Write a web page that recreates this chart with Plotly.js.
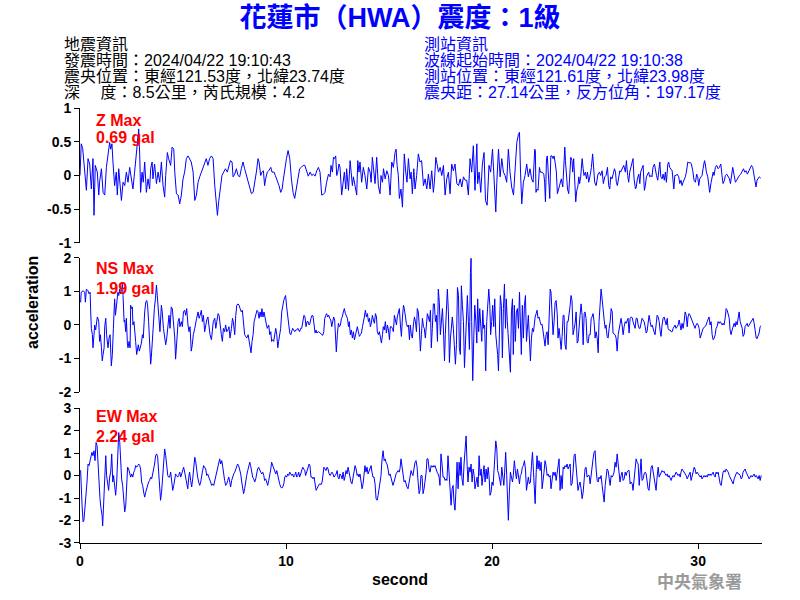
<!DOCTYPE html>
<html>
<head>
<meta charset="utf-8">
<script src="https://cdn.plot.ly/plotly-3.0.1.min.js"></script>
<style>html,body{margin:0;padding:0;background:#fff;}#chart{width:800px;height:600px;}</style>
</head>
<body>
<div id="chart"></div>
<script>
// ---- Data (seconds, gal) ----
const zTime = [0.00,0.03,0.06,0.13,0.23,0.31,0.39,0.47,0.55,0.63,0.68,0.74,0.84,0.91,0.95,1.04,1.12,1.20,1.28,1.36,1.44,1.49,1.55,1.60,1.68,1.76,1.81,1.88,1.96,2.01,2.09,2.17,2.25,2.33,2.41,2.46,2.57,2.65,2.73,2.85,2.90,2.94,3.01,3.07,3.14,3.22,3.30,3.38,3.43,3.50,3.54,3.62,3.71,3.79,3.87,3.95,4.03,4.11,4.16,4.24,4.30,4.40,4.47,4.55,4.60,4.68,4.76,4.84,4.92,5.00,5.08,5.16,5.24,5.32,5.40,5.49,5.57,5.65,5.73,5.81,5.89,5.97,6.05,6.13,6.21,6.29,6.38,6.46,6.54,6.62,6.67,6.73,6.83,6.89,6.97,7.06,7.15,7.22,7.30,7.38,7.43,7.51,7.59,7.67,7.75,7.83,7.91,7.99,8.07,8.16,8.24,8.32,8.40,8.48,8.56,8.64,8.69,8.77,8.83,8.90,8.96,9.01,9.09,9.16,9.26,9.32,9.42,9.48,9.58,9.66,9.74,9.81,9.85,9.94,10.02,10.10,10.18,10.26,10.34,10.42,10.50,10.58,10.66,10.74,10.83,10.91,10.99,
11.08,11.17,11.25,11.33,11.41,11.49,11.57,11.65,11.70,11.73,11.81,11.89,11.97,12.06,12.14,12.18,12.25,12.30,12.35,12.41,12.46,12.51,12.57,12.62,12.70,12.78,12.83,12.90,12.94,13.03,13.11,13.16,13.22,13.27,13.35,13.43,13.48,13.54,13.59,13.67,13.75,13.83,13.92,14.00,14.08,14.13,14.19,14.26,14.32,14.40,14.48,14.56,14.61,14.68,14.73,14.81,14.89,14.97,15.05,15.13,15.21,15.29,15.34,15.39,15.45,15.50,15.58,15.65,15.70,15.74,15.81,15.87,15.94,16.02,16.07,16.13,16.20,16.26,16.34,16.42,16.50,16.58,16.67,16.75,16.83,16.91,16.99,17.07,17.15,17.20,17.27,17.33,17.40,17.48,17.56,17.64,17.72,17.80,17.88,17.96,18.04,18.12,18.20,18.29,18.37,18.45,18.53,18.61,18.69,18.77,18.85,18.93,19.01,19.09,19.17,19.26,19.30,19.37,19.45,19.53,19.61,19.68,19.76,19.85,19.93,20.02,20.10,20.18,20.23,20.31,20.39,20.47,20.55,20.63,20.71,20.79,20.87,20.95,21.04,21.12,21.20,21.28,21.33,21.38,21.44,21.52,21.60,21.68,21.76,21.84,21.92,
21.99,22.04,22.07,22.10,22.13,22.18,22.23,22.26,22.30,22.34,22.43,22.51,22.55,22.59,22.64,22.68,22.75,22.80,22.85,22.91,22.96,23.01,23.07,23.12,23.17,23.23,23.32,23.36,23.43,23.48,23.53,23.56,23.61,23.66,23.72,23.77,23.82,23.88,23.91,23.96,24.01,24.06,24.11,24.16,24.21,24.25,24.30,24.37,24.42,24.46,24.53,24.58,24.63,24.69,24.77,24.82,24.88,24.93,24.98,25.05,25.10,25.14,25.21,25.27,25.34,25.40,25.47,25.53,25.60,25.66,25.71,25.76,25.82,25.87,25.94,25.99,26.03,26.08,26.15,26.20,26.24,26.31,26.39,26.47,26.52,26.58,26.63,26.68,26.75,26.79,26.84,26.89,26.96,27.00,27.05,27.12,27.17,27.21,27.28,27.33,27.39,27.44,27.49,27.55,27.60,27.65,27.72,27.76,27.81,27.88,27.93,27.98,28.04,28.09,28.14,28.19,28.25,28.30,28.36,28.41,28.46,28.53,28.57,28.62,28.67,28.74,28.82,28.87,28.93,28.98,29.06,29.11,29.17,29.22,29.27,29.32,29.38,29.43,29.50,29.54,29.63,29.67,29.74,29.80,29.87,29.93,29.98,30.03,30.08,30.14,30.19,30.24,30.31,30.35,30.40,30.47,30.52,30.56,30.63,30.68,30.73,30.77,30.84,30.90,30.97,31.03,31.10,31.16,31.21,31.28,31.32,31.39,31.45,31.52,31.57,31.62,31.68,31.75,31.81,31.87,31.94,32.00,32.07,32.13,32.20,32.26,32.33,32.39,32.46,32.54,32.59,32.65,32.72,32.75,32.81,32.86,32.91,32.97,33.04];
const zAcc = [0.00,0.45,0.47,0.40,0.00,-0.22,0.25,0.17,-0.20,0.25,-0.59,0.15,0.05,-0.29,-0.10,0.10,-0.25,-0.29,0.12,0.29,0.49,0.39,0.47,0.20,-0.15,0.05,-0.29,0.10,-0.20,-0.37,-0.10,-0.15,0.05,-0.10,0.12,0.02,-0.20,0.05,0.29,0.69,0.29,-0.25,0.05,-0.10,0.20,-0.25,-0.05,-0.20,0.10,0.20,-0.05,0.17,-0.12,0.05,-0.10,0.20,-0.15,-0.32,0.00,0.34,0.25,0.15,0.42,0.39,0.05,-0.27,-0.29,-0.42,-0.29,-0.05,0.05,0.25,0.29,0.25,0.20,0.05,-0.37,-0.29,-0.10,-0.02,0.05,0.12,0.17,0.25,0.15,0.25,0.29,0.25,-0.15,-0.44,-0.59,-0.39,-0.10,0.00,0.05,0.10,0.05,0.15,0.22,0.20,-0.02,0.02,0.10,0.00,-0.02,0.10,0.20,0.10,0.00,-0.10,-0.20,-0.27,-0.25,-0.12,0.05,0.25,0.20,0.00,0.05,0.07,-0.15,-0.05,0.05,0.07,0.12,0.05,0.05,0.00,-0.07,-0.15,-0.25,-0.20,-0.10,0.10,0.25,0.37,0.25,-0.05,-0.25,-0.34,-0.20,0.00,0.10,0.12,0.15,0.15,0.07,
-0.01,0.05,0.00,0.02,-0.01,0.07,0.12,0.05,-0.15,-0.29,-0.28,-0.25,-0.10,0.02,-0.02,0.15,0.05,0.27,0.25,0.29,0.00,0.05,0.17,0.12,-0.29,-0.10,0.05,-0.20,0.10,-0.22,0.22,0.05,-0.15,-0.02,-0.17,-0.29,0.22,0.05,0.20,-0.10,0.12,0.00,-0.20,0.12,0.05,-0.10,0.27,0.05,-0.12,0.27,-0.15,-0.27,0.00,-0.10,0.10,-0.05,0.07,0.00,-0.29,0.20,0.12,0.34,0.39,0.15,0.00,-0.34,-0.20,-0.47,-0.05,0.32,0.05,-0.10,0.25,-0.05,0.05,-0.27,0.10,-0.20,0.00,0.32,0.20,0.22,-0.15,-0.05,-0.20,0.02,-0.20,0.07,-0.25,-0.10,0.27,0.15,0.05,0.12,0.00,0.15,-0.29,-0.05,0.05,-0.27,0.17,0.07,0.17,-0.12,-0.15,-0.05,-0.17,-0.02,-0.07,-0.07,-0.29,0.25,0.05,0.44,-0.22,0.47,-0.12,0.05,-0.25,0.17,0.34,-0.37,-0.44,0.15,0.05,0.39,-0.07,-0.54,-0.10,0.39,-0.02,0.25,0.05,0.00,-0.10,0.39,0.05,-0.17,-0.29,0.15,0.49,0.61,0.64,0.05,-0.42,-0.10,0.00,0.17,-0.02,0.10,-0.05,
-0.10,0.12,0.39,0.37,-0.25,-0.20,-0.22,0.00,0.12,0.05,0.05,0.02,-0.10,-0.39,0.25,0.29,-0.02,-0.34,0.29,0.29,0.25,0.29,0.17,0.05,-0.27,-0.20,-0.12,-0.05,-0.17,0.12,0.42,0.22,-0.10,-0.20,-0.27,0.15,0.27,0.22,0.05,0.25,-0.10,-0.39,-0.22,-0.17,-0.02,-0.12,-0.02,0.25,0.10,0.00,0.05,-0.05,0.05,-0.10,0.02,0.12,0.32,0.10,-0.10,-0.15,0.00,0.02,0.05,0.00,0.07,-0.12,-0.02,0.00,0.12,-0.15,-0.20,-0.02,-0.05,0.00,0.10,0.05,-0.10,-0.15,0.02,0.07,0.05,0.10,0.15,0.05,0.22,0.00,-0.10,0.05,0.15,0.22,0.25,-0.05,-0.20,-0.17,-0.05,0.02,-0.12,0.05,0.12,0.15,-0.22,-0.15,-0.02,0.02,0.05,-0.02,0.00,-0.02,0.12,0.17,0.05,0.00,-0.07,0.07,0.20,-0.02,-0.05,0.02,-0.07,0.05,-0.10,0.17,0.20,0.12,0.10,0.07,-0.20,0.00,0.00,0.02,-0.02,-0.12,-0.07,-0.15,-0.10,-0.07,-0.02,0.05,0.20,0.19,0.19,0.17,0.07,-0.07,-0.10,0.02,-0.02,-0.15,-0.05,-0.02,0.00,0.10,0.22,0.17,0.05,-0.02,-0.15,-0.25,-0.10,-0.02,0.05,0.00,0.12,0.15,0.10,0.12,0.17,0.00,-0.12,-0.07,0.00,0.02,-0.02,-0.05,-0.12,-0.02,0.12,0.00,-0.10,-0.07,-0.02,0.00,0.02,0.07,0.10,0.05,0.07,0.02,0.07,0.12,0.15,0.12,0.00,-0.10,-0.17,-0.07,-0.05,-0.02,-0.04];

const nsTime = [0.00,0.03,0.06,0.15,0.23,0.26,0.31,0.39,0.44,0.49,0.52,0.55,0.60,0.63,0.68,0.71,0.76,0.81,0.84,0.87,0.91,0.95,0.99,1.04,1.08,1.12,1.17,1.20,1.25,1.29,1.36,1.41,1.46,1.52,1.57,1.62,1.65,1.68,1.72,1.76,1.81,1.84,1.88,1.93,1.97,2.01,2.06,2.09,2.14,2.17,2.22,2.25,2.30,2.33,2.38,2.43,2.46,2.49,2.54,2.57,2.62,2.65,2.70,2.75,2.78,2.83,2.88,2.93,2.98,3.03,3.07,3.14,3.19,3.24,3.28,3.33,3.38,3.43,3.46,3.51,3.56,3.61,3.66,3.71,3.75,3.79,3.83,3.88,3.95,3.99,4.05,4.11,4.16,4.21,4.27,4.32,4.37,4.43,4.48,4.53,4.60,4.64,4.69,4.76,4.81,4.85,4.92,4.97,5.02,5.08,5.13,5.18,5.24,5.29,5.34,5.40,5.45,5.50,5.57,5.62,5.66,5.73,5.78,5.83,5.89,5.94,5.99,6.05,6.10,6.15,6.21,6.26,6.31,6.38,6.42,6.47,6.54,6.59,6.64,6.70,6.75,6.80,6.86,6.91,6.96,7.02,7.07,7.12,7.18,7.23,7.28,7.35,7.40,7.44,7.51,7.56,7.61,7.67,7.72,7.77,7.83,7.88,7.93,7.99,8.04,8.09,8.16,8.20,8.25,8.30,8.35,8.40,8.45,8.50,8.54,8.59,8.64,8.69,8.74,8.79,8.83,8.88,8.93,9.00,9.05,9.09,9.16,9.21,9.26,9.30,9.35,9.40,9.45,9.50,9.55,9.60,9.64,9.69,9.74,9.79,9.84,9.89,9.94,9.98,10.03,10.08,10.13,10.18,10.23,10.28,10.32,10.37,10.42,10.47,10.52,10.57,10.62,10.66,10.71,10.76,10.83,10.87,10.92,10.97,11.02,
11.07,11.12,11.16,11.21,11.26,11.31,11.36,11.41,11.46,11.50,11.57,11.62,11.67,11.73,11.78,11.83,11.88,11.93,11.97,12.02,12.07,12.12,12.17,12.22,12.27,12.31,12.36,12.41,12.44,12.49,12.54,12.59,12.64,12.69,12.73,12.78,12.83,12.88,12.93,12.98,13.03,13.07,13.12,13.17,13.22,13.27,13.32,13.37,13.41,13.46,13.51,13.56,13.61,13.66,13.71,13.75,13.80,13.85,13.90,13.95,14.00,14.05,14.09,14.14,14.19,14.24,14.29,14.34,14.39,14.43,14.48,14.53,14.58,14.63,14.68,14.72,14.77,14.82,14.87,14.92,14.97,15.02,15.06,15.11,15.16,15.21,15.26,15.31,15.36,15.40,15.45,15.50,15.55,15.60,15.65,15.70,15.74,15.79,15.84,15.89,15.94,15.99,16.03,16.08,16.13,16.18,16.23,16.28,16.33,16.37,16.42,16.47,16.52,16.57,16.62,16.67,16.71,16.76,16.81,16.86,16.91,16.96,17.01,17.05,17.10,17.15,17.20,17.25,17.30,17.35,17.39,17.44,17.49,17.54,17.59,17.64,17.69,17.73,17.78,17.83,17.88,17.93,17.98,18.03,18.07,18.12,18.17,18.22,18.27,18.32,18.37,18.41,18.46,18.51,18.56,18.61,18.66,18.70,18.75,18.80,18.85,18.90,18.95,18.98,19.01,19.06,19.11,19.16,19.21,19.26,19.30,19.35,19.40,19.45,19.50,19.55,19.59,19.64,19.69,19.74,19.79,19.84,19.89,19.93,19.98,20.03,20.08,20.13,20.18,20.23,20.27,20.31,20.35,20.40,20.45,20.50,20.55,20.60,20.65,20.69,20.74,20.79,20.84,20.89,20.94,20.99,21.03,21.08,21.13,21.18,21.23,21.28,21.33,21.37,21.42,21.47,21.52,21.57,21.62,21.67,21.71,21.76,21.81,21.86,21.91,21.96,22.01,
22.04,22.09,22.14,22.18,22.23,22.28,22.33,22.38,22.43,22.48,22.52,22.57,22.62,22.67,22.72,22.77,22.82,22.86,22.91,22.96,23.01,23.06,23.11,23.16,23.20,23.25,23.30,23.35,23.40,23.45,23.49,23.54,23.59,23.64,23.69,23.74,23.79,23.83,23.88,23.93,23.98,24.03,24.08,24.13,24.17,24.22,24.27,24.32,24.37,24.42,24.47,24.51,24.56,24.61,24.66,24.71,24.76,24.81,24.85,24.90,24.95,25.00,25.05,25.10,25.15,25.19,25.24,25.29,25.34,25.39,25.44,25.49,25.53,25.58,25.63,25.68,25.73,25.78,25.83,25.87,25.92,25.97,26.02,26.07,26.12,26.17,26.21,26.26,26.31,26.36,26.41,26.46,26.51,26.55,26.60,26.65,26.70,26.75,26.80,26.84,26.89,26.94,26.99,27.04,27.09,27.14,27.18,27.23,27.28,27.33,27.38,27.43,27.48,27.52,27.57,27.62,27.67,27.72,27.77,27.82,27.86,27.91,27.96,28.01,28.06,28.11,28.16,28.20,28.25,28.30,28.35,28.40,28.45,28.50,28.54,28.59,28.64,28.69,28.74,28.79,28.83,28.88,28.93,28.98,29.03,29.08,29.13,29.17,29.22,29.27,29.32,29.37,29.42,29.47,29.51,29.56,29.61,29.66,29.71,29.76,29.81,29.85,29.90,29.95,30.00,30.05,30.10,30.15,30.19,30.24,30.29,30.34,30.39,30.44,30.49,30.53,30.58,30.63,30.68,30.73,30.78,30.83,30.87,30.92,30.97,31.02,31.07,31.12,31.17,31.21,31.26,31.31,31.36,31.41,31.46,31.51,31.55,31.60,31.65,31.70,31.75,31.80,31.84,31.89,31.94,31.99,32.04,32.09,32.14,32.18,32.23,32.28,32.33,32.38,32.43,32.48,32.52,32.57,32.62,32.67,32.72,32.77,32.82,32.86,32.91,32.96,33.01,33.06];
const nsAcc = [0.70,0.68,0.98,1.02,0.98,0.68,1.07,1.02,0.93,0.98,0.39,-0.10,-0.29,-0.68,-0.29,0.00,-0.15,0.20,0.24,0.20,0.10,-0.49,-0.29,-0.68,-1.07,-0.88,-0.68,-0.05,0.20,-0.29,-0.68,-0.39,-0.29,-1.22,-0.88,-0.10,0.68,0.78,0.29,0.49,0.78,0.98,0.88,1.07,0.93,1.07,1.22,0.88,0.10,0.15,-0.20,0.20,-0.54,-0.68,-0.49,-0.68,0.59,0.49,0.54,0.00,0.10,-0.29,-0.49,-0.88,-0.68,-0.59,-0.78,-0.68,-0.54,-0.29,-0.39,0.39,0.68,0.73,0.59,0.10,-0.59,-1.17,-0.98,-0.39,0.10,0.49,0.78,1.19,0.88,0.49,0.20,-0.20,0.59,0.39,-0.10,-0.49,-0.59,-0.39,0.00,0.29,-0.10,0.54,0.49,0.10,-0.39,-1.02,-0.39,0.10,0.20,-0.05,0.10,-0.05,0.39,0.44,0.29,0.49,0.00,-0.20,-0.05,-0.78,-0.59,-0.29,-0.10,0.10,0.20,0.39,0.20,0.29,0.44,0.10,0.29,-0.20,0.00,0.15,0.24,0.00,-0.29,-0.44,-0.20,0.10,0.20,-0.10,0.10,0.34,0.29,-0.05,-0.29,-0.49,-0.10,-0.20,0.00,-0.20,-0.15,-0.05,-0.39,-0.10,0.20,0.10,-0.29,0.29,0.59,0.63,0.59,0.49,0.39,0.44,0.10,-0.29,-0.34,-0.39,-0.29,-0.49,-0.59,-0.83,-0.49,-0.29,0.10,0.20,0.29,0.44,0.39,0.20,0.39,0.24,0.49,0.24,0.39,0.10,0.00,-0.10,0.00,-0.29,-0.20,-0.49,-0.44,-0.49,-0.20,-0.10,-0.29,-0.68,-0.49,-0.29,-0.10,0.39,0.59,0.73,0.83,0.88,0.54,0.29,0.00,-0.24,-0.29,-0.15,-0.10,-0.15,-0.20,-0.15,-0.15,-0.10,-0.15,-0.20,-0.10,-0.10,0.15,0.29,0.24,-0.05,0.10,
0.10,0.00,0.05,0.20,0.29,0.27,-0.10,-0.24,-0.15,-0.24,-0.20,-0.21,-0.24,-0.29,-0.31,-0.20,0.20,0.29,0.34,0.24,0.29,0.20,0.15,-0.05,0.10,0.24,0.15,-0.49,-0.80,-0.29,0.05,-0.05,0.00,0.20,0.24,0.39,0.49,0.34,0.29,0.20,-0.05,0.10,-0.29,-0.15,-0.39,-0.20,-0.44,-0.29,-0.10,-0.05,-0.20,-0.34,-0.29,-0.24,-0.05,0.15,0.24,0.44,0.24,0.34,0.10,0.20,-0.05,0.05,0.29,0.15,0.05,0.34,0.24,-0.20,-0.29,-0.20,-0.34,-0.54,-0.29,-0.05,-0.15,0.10,-0.24,0.00,-0.15,-0.44,-0.05,-0.05,-0.10,-0.20,0.29,0.15,0.00,0.24,0.34,0.49,0.00,-0.34,0.24,0.59,0.49,0.20,0.05,-0.05,0.00,-0.44,0.00,-0.29,-0.39,0.00,0.24,0.10,-0.20,0.49,0.39,-0.05,-0.78,-0.29,0.20,-0.05,-0.10,-0.39,0.00,0.34,0.24,0.10,0.44,-0.68,-0.10,0.63,0.63,0.10,0.29,-0.49,1.07,0.68,-0.29,0.29,0.49,-0.15,-1.07,-0.29,0.39,1.07,0.39,-1.12,-0.39,0.10,0.24,-0.10,-0.54,-1.17,-0.59,1.12,0.88,-0.68,-0.88,1.17,0.59,0.10,-1.27,-0.49,0.49,0.88,0.10,-0.73,1.56,1.99,0.10,-1.66,-0.39,0.59,0.10,-0.54,0.78,-0.20,0.49,0.10,-0.49,0.44,-0.10,0.00,-1.37,0.10,0.59,1.07,0.59,-0.29,0.10,0.59,-0.05,0.78,-0.29,-0.59,-0.88,-1.37,0.00,0.88,0.59,-0.98,0.49,1.22,-0.10,0.78,0.10,-0.39,-1.07,-1.41,0.39,0.78,-0.88,0.59,-0.49,0.39,0.49,-0.10,0.98,-0.10,-0.88,0.59,-0.39,0.59,0.88,-0.49,-0.10,0.29,-0.39,-1.07,-0.39,-0.10,-0.20,
0.00,0.24,0.34,0.44,0.20,0.24,0.10,0.00,0.02,-0.29,-0.39,-0.63,-0.29,-0.20,-0.59,0.24,1.07,0.98,0.39,-0.29,0.10,0.68,0.73,0.34,-0.39,-0.10,-0.39,-0.73,-0.34,0.29,0.29,-0.59,-0.73,0.10,0.10,0.29,0.59,0.88,0.73,-0.29,-0.10,0.05,0.39,-0.54,-0.49,-0.20,0.29,0.63,0.29,-0.59,0.34,0.39,0.20,-0.49,-0.54,-0.29,-0.29,0.20,0.24,0.34,0.10,-0.39,-0.20,-0.39,-0.83,0.10,0.68,1.07,0.78,0.29,0.15,-0.10,0.00,-0.34,-0.39,-0.10,0.10,0.49,0.39,-0.24,-0.27,-0.29,-0.39,-0.78,-0.29,-0.10,-0.05,0.20,0.00,-0.29,-0.05,0.10,0.05,0.15,0.20,-0.24,0.20,0.24,0.22,0.10,0.00,-0.10,0.20,0.20,0.00,-0.10,-0.10,0.05,0.20,0.15,0.10,-0.05,-0.24,-0.20,0.15,0.29,0.10,-0.05,0.00,-0.15,-0.20,-0.29,0.05,0.29,0.24,0.10,-0.20,-0.34,0.00,0.20,0.24,0.10,0.00,0.20,-0.10,-0.15,-0.15,-0.20,-0.20,-0.10,-0.05,0.00,-0.10,-0.05,0.00,0.15,-0.05,-0.15,0.05,-0.10,0.10,0.39,0.29,-0.05,0.24,0.34,0.29,0.20,0.15,0.00,-0.05,-0.10,0.00,0.05,0.00,-0.10,-0.39,-0.29,-0.15,-0.10,-0.08,-0.05,0.00,0.10,0.20,0.24,0.00,0.10,-0.29,-0.44,-0.39,-0.29,-0.10,-0.05,0.10,0.05,0.10,0.05,0.00,0.05,0.00,0.20,0.49,0.44,0.29,0.20,-0.15,-0.29,-0.15,-0.05,0.05,-0.05,0.10,0.00,0.24,0.39,0.10,-0.05,-0.10,-0.34,-0.29,-0.05,0.00,0.05,-0.05,0.00,0.05,0.10,0.15,0.20,0.05,-0.24,-0.39,-0.41,-0.34,-0.24,-0.05,-0.02];

const ewTime = [0.00,0.03,0.10,0.15,0.19,0.24,0.29,0.34,0.39,0.44,0.49,0.53,0.58,0.63,0.68,0.73,0.78,0.83,0.87,0.92,0.97,1.02,1.07,1.10,1.15,1.20,1.25,1.29,1.34,1.39,1.44,1.49,1.54,1.59,1.63,1.68,1.73,1.78,1.83,1.88,1.93,1.97,2.02,2.07,2.12,2.17,2.22,2.27,2.31,2.36,2.41,2.46,2.51,2.56,2.61,2.65,2.70,2.75,2.80,2.85,2.90,2.94,2.99,3.04,3.09,3.14,3.19,3.24,3.28,3.33,3.38,3.43,3.48,3.53,3.58,3.62,3.67,3.72,3.77,3.82,3.87,3.91,3.96,4.01,4.06,4.11,4.16,4.21,4.26,4.30,4.35,4.40,4.45,4.50,4.55,4.60,4.64,4.69,4.74,4.79,4.84,4.89,4.94,4.98,5.03,5.08,5.13,5.18,5.23,5.28,5.32,5.37,5.42,5.47,5.52,5.57,5.61,5.66,5.71,5.76,5.81,5.86,5.91,5.95,6.00,6.05,6.10,6.15,6.20,6.25,6.29,6.34,6.39,6.44,6.49,6.54,6.59,6.63,6.68,6.73,6.78,6.83,6.88,6.93,6.97,7.02,7.07,7.12,7.17,7.22,7.27,7.31,7.36,7.41,7.46,7.51,7.56,7.61,7.65,7.70,7.75,7.80,7.85,7.90,7.94,7.99,8.04,8.09,8.14,8.19,8.24,8.28,8.33,8.38,8.43,8.48,8.53,8.58,8.62,8.67,8.72,8.77,8.82,8.87,8.92,8.96,9.01,9.06,9.11,9.16,9.21,9.26,9.30,9.35,9.40,9.45,9.50,9.55,9.59,9.64,9.69,9.74,9.79,9.84,9.89,9.94,9.98,10.03,10.08,10.13,10.18,10.23,10.28,10.32,10.37,10.42,10.47,10.52,10.57,10.61,10.66,10.71,10.76,10.81,10.86,10.91,10.95,11.00,
11.02,11.07,11.12,11.16,11.21,11.26,11.31,11.36,11.41,11.46,11.50,11.55,11.60,11.65,11.70,11.75,11.80,11.84,11.89,11.94,11.99,12.04,12.09,12.14,12.18,12.23,12.28,12.33,12.38,12.43,12.48,12.52,12.57,12.62,12.67,12.72,12.77,12.82,12.86,12.91,12.96,13.01,13.06,13.11,13.15,13.20,13.25,13.30,13.35,13.40,13.45,13.49,13.54,13.59,13.64,13.69,13.74,13.79,13.83,13.88,13.93,13.98,14.03,14.08,14.13,14.17,14.22,14.27,14.32,14.37,14.42,14.47,14.51,14.56,14.61,14.66,14.71,14.76,14.81,14.85,14.90,14.95,15.00,15.05,15.10,15.15,15.19,15.24,15.29,15.34,15.39,15.44,15.49,15.53,15.58,15.63,15.68,15.73,15.78,15.82,15.87,15.92,15.97,16.02,16.07,16.12,16.16,16.21,16.26,16.31,16.36,16.41,16.46,16.50,16.55,16.60,16.65,16.70,16.75,16.80,16.84,16.89,16.94,16.99,17.04,17.09,17.14,17.18,17.23,17.28,17.33,17.38,17.43,17.47,17.52,17.57,17.62,17.67,17.72,17.77,17.81,17.86,17.91,17.96,18.01,18.06,18.11,18.15,18.20,18.25,18.30,18.35,18.40,18.45,18.49,18.54,18.59,18.64,18.69,18.74,18.79,18.83,18.88,18.93,18.98,19.03,19.08,19.13,19.17,19.22,19.27,19.32,19.37,19.42,19.47,19.51,19.56,19.61,19.66,19.71,19.76,19.81,19.85,19.90,19.95,20.00,20.05,20.10,20.14,20.18,20.23,20.27,20.32,20.37,20.42,20.47,20.52,20.57,20.61,20.66,20.71,20.76,20.79,20.84,20.89,20.94,20.99,21.03,21.08,21.13,21.18,21.23,21.28,21.33,21.37,21.42,21.47,21.52,21.57,21.62,21.67,21.71,21.76,21.81,21.86,21.91,21.96,22.01,
22.04,22.09,22.14,22.18,22.23,22.28,22.33,22.38,22.43,22.48,22.52,22.57,22.62,22.67,22.72,22.77,22.82,22.86,22.91,22.96,23.01,23.06,23.11,23.16,23.20,23.25,23.30,23.35,23.40,23.45,23.49,23.54,23.59,23.64,23.69,23.74,23.79,23.83,23.88,23.93,23.98,24.03,24.08,24.13,24.17,24.22,24.27,24.32,24.37,24.42,24.47,24.51,24.56,24.61,24.66,24.71,24.76,24.81,24.85,24.90,24.95,25.00,25.05,25.10,25.15,25.19,25.24,25.29,25.34,25.39,25.44,25.49,25.53,25.58,25.63,25.68,25.73,25.78,25.83,25.87,25.92,25.97,26.02,26.07,26.12,26.17,26.21,26.26,26.31,26.36,26.41,26.46,26.51,26.55,26.60,26.65,26.70,26.75,26.80,26.84,26.89,26.94,26.99,27.04,27.09,27.14,27.18,27.23,27.28,27.33,27.38,27.43,27.48,27.52,27.57,27.62,27.67,27.72,27.77,27.82,27.86,27.91,27.96,28.01,28.06,28.11,28.16,28.20,28.25,28.30,28.35,28.40,28.45,28.50,28.54,28.59,28.64,28.69,28.74,28.79,28.83,28.88,28.93,28.98,29.03,29.08,29.13,29.17,29.22,29.27,29.32,29.37,29.42,29.47,29.51,29.56,29.61,29.66,29.71,29.76,29.81,29.85,29.90,29.95,30.00,30.05,30.10,30.15,30.19,30.24,30.29,30.34,30.39,30.44,30.49,30.53,30.58,30.63,30.68,30.73,30.78,30.83,30.87,30.92,30.97,31.02,31.07,31.12,31.17,31.21,31.26,31.31,31.36,31.41,31.46,31.51,31.55,31.60,31.65,31.70,31.75,31.80,31.84,31.89,31.94,31.99,32.04,32.09,32.14,32.18,32.23,32.28,32.33,32.38,32.43,32.48,32.52,32.57,32.62,32.67,32.72,32.77,32.82,32.86,32.91,32.96,33.01,33.06];
const ewAcc = [0.20,0.22,-1.32,-2.06,-1.99,-1.47,-0.74,-0.29,0.51,0.44,0.66,0.88,1.03,0.88,1.10,0.66,1.47,1.32,0.44,-0.44,-1.03,-1.47,-1.76,-2.24,-1.18,0.00,0.88,0.00,-0.44,-0.66,-0.07,0.15,0.96,-0.29,0.00,-0.44,-0.88,-0.29,1.32,1.91,1.47,0.59,-0.15,-0.44,-1.18,-1.62,-1.32,-0.15,0.37,0.29,0.15,-0.07,0.07,-0.07,0.15,0.22,0.44,0.37,0.44,0.51,0.44,0.29,-0.29,-0.44,-0.74,-0.96,-0.74,-0.59,-0.37,-0.29,-0.22,-0.07,-0.15,0.07,0.22,0.51,0.88,0.96,0.81,0.15,-0.59,-1.10,-0.74,0.00,0.96,1.18,0.88,0.29,0.00,-0.07,-0.07,0.15,-0.44,-0.66,-0.44,-0.15,0.07,0.00,-0.07,0.00,0.15,-0.07,0.07,0.29,0.37,0.15,-0.07,-0.29,-0.59,-0.07,0.15,-0.22,-0.51,-0.15,0.29,0.81,0.66,0.15,-0.07,-0.29,-0.44,-0.29,0.07,0.22,0.44,0.37,0.29,0.00,0.07,-0.07,-0.22,-0.29,-0.44,-0.37,-0.44,-0.22,0.00,0.15,0.37,0.66,0.74,0.51,0.66,0.37,0.00,-0.22,-0.44,-0.37,-0.22,-0.07,-0.29,-0.51,-0.22,0.00,0.07,0.15,0.29,0.44,0.51,0.44,0.29,0.07,-0.29,-0.59,-0.81,-0.59,-0.22,0.00,0.22,0.51,0.59,0.44,0.15,-0.07,-0.15,-0.29,-0.15,0.15,0.29,0.37,0.22,0.15,0.07,0.15,0.00,-0.22,-0.15,-0.29,-0.44,-0.22,0.00,0.29,0.59,0.44,0.29,0.15,0.07,0.22,0.00,-0.22,-0.37,-0.51,-0.56,-0.51,-0.37,-0.07,0.00,-0.07,0.07,0.00,0.15,0.07,0.00,0.07,-0.07,0.00,0.15,-0.07,0.00,0.15,-0.07,0.07,0.22,0.37,0.29,0.22,0.00,0.15,
0.29,0.37,0.51,0.44,-0.07,-0.07,-0.15,-0.07,-0.44,-0.66,-0.59,-0.44,-0.40,-0.37,-0.41,-0.29,0.29,0.37,0.29,0.22,0.37,0.29,0.07,0.00,0.07,0.15,0.07,-0.07,0.00,0.07,0.22,-0.07,-0.15,0.07,0.00,-0.15,0.15,-0.22,-0.07,0.22,0.07,0.37,0.15,-0.15,-0.29,-0.37,-0.15,0.22,0.44,0.29,0.00,0.07,-0.07,0.07,-0.29,-0.59,-0.37,0.00,0.44,0.15,0.37,0.07,0.22,0.37,0.44,0.15,-0.07,-0.07,-0.37,-1.03,-1.10,-0.88,-0.59,-0.29,0.00,0.74,1.10,0.66,0.74,0.59,0.51,0.29,0.00,0.07,-0.15,-0.37,-0.44,-0.29,-0.07,0.07,0.15,0.22,0.15,0.29,0.74,0.29,0.15,-0.29,-0.22,-0.37,-0.51,-0.59,-0.37,-0.07,0.22,0.07,0.00,0.29,0.59,0.66,0.37,-0.29,-0.81,-0.66,0.00,0.00,-0.81,-0.59,-0.22,0.15,0.74,0.74,0.29,0.15,0.44,0.37,0.44,0.37,0.44,0.22,0.15,0.07,-0.07,-0.44,0.96,0.51,-0.07,-0.07,-0.22,-0.15,-0.22,0.88,0.15,-0.88,-1.32,-0.59,-0.44,-1.18,-1.54,-0.59,0.59,-0.59,0.59,0.00,0.81,-0.15,-0.44,0.51,1.18,1.76,0.44,-0.29,0.37,0.15,0.51,-0.29,0.29,0.00,-0.59,-0.29,-0.07,-0.51,0.88,0.00,0.29,-0.44,0.15,0.44,-0.29,0.29,-0.15,0.37,0.00,-0.88,-0.74,-0.29,-0.44,0.44,1.47,1.54,1.18,0.22,0.07,-0.15,-0.44,0.37,0.00,-0.44,0.15,1.03,0.00,-1.91,-1.99,-0.74,0.15,-0.07,-0.29,0.00,0.66,0.22,-0.15,0.29,0.00,-0.37,0.00,0.07,0.37,0.44,0.66,0.29,-0.66,-0.44,-0.07,-0.37,-0.29,0.44,1.03,0.15,
-0.59,-1.25,0.15,0.88,0.29,0.66,0.22,0.59,-0.59,-0.29,0.15,0.66,0.44,0.00,0.07,-0.07,0.00,-0.59,-0.22,0.15,0.00,0.15,-0.22,0.22,0.59,0.74,-0.66,0.00,-0.59,0.37,0.29,0.44,0.37,0.51,0.29,0.44,0.51,-0.44,-0.37,0.15,0.88,0.96,0.29,-0.59,-0.66,-0.44,-0.29,-0.59,-1.03,-0.74,-0.07,0.29,0.37,-0.07,0.00,0.00,-0.37,0.15,0.44,0.74,1.03,1.10,0.29,-0.22,-0.29,-0.07,-0.15,0.00,-0.44,-0.81,-1.18,-0.44,0.00,0.29,0.22,-0.15,-0.44,0.00,-0.07,0.00,0.15,0.59,0.37,0.96,0.37,-0.22,-0.29,0.00,0.15,-0.22,-0.15,0.15,0.00,0.15,0.22,0.22,-0.37,-0.29,-0.37,-0.66,-0.15,0.44,0.74,0.59,0.51,-0.44,0.15,0.74,-0.22,-0.15,0.07,0.15,0.07,-0.29,-0.59,-0.66,-0.07,0.37,0.44,0.15,-0.07,-0.37,-0.66,-0.07,0.37,-0.07,0.07,0.15,0.22,0.15,0.19,0.07,0.00,0.07,-0.07,0.00,-0.15,-0.22,-0.07,0.00,-0.07,0.07,0.15,0.07,0.00,0.07,-0.07,0.15,0.29,0.22,0.15,0.07,0.00,-0.15,-0.07,0.07,0.15,-0.22,0.00,0.22,0.37,0.29,0.07,0.15,0.07,0.00,-0.07,0.00,-0.15,-0.07,0.00,-0.07,0.00,-0.07,0.07,0.00,0.07,0.00,0.07,0.15,0.00,-0.07,0.15,0.07,0.15,-0.15,-0.37,-0.44,-0.15,0.15,0.22,0.15,0.29,0.22,0.15,0.00,-0.07,-0.22,-0.29,-0.37,-0.15,0.00,0.07,0.15,0.07,0.07,0.00,-0.15,-0.07,0.15,0.22,0.29,0.15,0.07,-0.07,-0.15,-0.07,0.00,-0.07,0.00,0.07,-0.07,0.00,-0.07,-0.15,0.00,-0.22,0.00];

const xTicks = [0, 10, 20, 30];
const xTickLabels = ['0', '10', '20', '30'];
const zTicks = [-1, -0.5, 0, 0.5, 1];
const zTickLabels = ['-1', '-0.5', '0', '0.5', '1'];
const nsTicks = [-2, -1, 0, 1, 2];
const nsTickLabels = ['-2', '-1', '0', '1', '2'];
const ewTicks = [-3, -2, -1, 0, 1, 2, 3];
const ewTickLabels = ['-3', '-2', '-1', '0', '1', '2', '3'];

const titleText = '花蓮市（HWA）震度：1級';
const quakeInfo = ['地震資訊', '發震時間：2024/04/22 19:10:43', '震央位置：東經121.53度，北緯23.74度', '深　 度：8.5公里，芮氏規模：4.2'];
const stationInfo = ['測站資訊', '波線起始時間：2024/04/22 19:10:38', '測站位置：東經121.61度，北緯23.98度', '震央距：27.14公里，反方位角：197.17度'];
const maxLabels = [['Z Max', '0.69 gal'], ['NS Max', '1.99 gal'], ['EW Max', '2.24 gal']];

// ---- Chart ----
const FONT = 'Liberation Sans, Arial, Noto Sans CJK TC, sans-serif';
const CJK = 'Liberation Sans, Noto Sans CJK TC, sans-serif';
const BLUE = '#0000FF';
const lineStyle = {color: BLUE, width: 1};

const traces = [
  {x: zTime, y: zAcc, xaxis: 'x', yaxis: 'y3', type: 'scatter', mode: 'lines', line: lineStyle, hoverinfo: 'skip'},
  {x: nsTime, y: nsAcc, xaxis: 'x', yaxis: 'y2', type: 'scatter', mode: 'lines', line: lineStyle, hoverinfo: 'skip'},
  {x: ewTime, y: ewAcc, xaxis: 'x', yaxis: 'y', type: 'scatter', mode: 'lines', line: lineStyle, hoverinfo: 'skip'}
];

const tickFont = {family: FONT, size: 14, color: '#000', weight: 'bold'};
function yAx(domain, range, vals, texts) {
  return {domain: domain, range: range, anchor: 'x', tickmode: 'array', tickvals: vals, ticktext: texts,
    showline: true, linecolor: '#000', linewidth: 1, ticks: 'outside', ticklen: 5, tickwidth: 1, tickcolor: '#000',
    showgrid: false, zeroline: false, tickfont: tickFont, fixedrange: true};
}

// info blocks: one multi-line text each (line pitch = 1.3 x base size = 16px), glyphs drawn at 16px
const BASE = 12.3;
const blockText = lines => lines.map(l => '<span style="font-size:16px">' + l + '</span>').join('<br>');
const annotations = [];
annotations.push({text: blockText(quakeInfo), xref: 'paper', yref: 'paper', x: -0.0264, y: 1.0915,
  xanchor: 'left', yanchor: 'middle', align: 'left', showarrow: false, font: {family: CJK, size: BASE, color: '#000'}});
annotations.push({text: blockText(stationInfo), xref: 'paper', yref: 'paper', x: 0.5015, y: 1.0915,
  xanchor: 'left', yanchor: 'middle', align: 'left', showarrow: false, font: {family: CJK, size: BASE, color: BLUE}});
const maxY = [[0.972, 0.933], [0.630, 0.585], [0.290, 0.244]];
maxLabels.forEach((pair, i) => pair.forEach((t, j) => annotations.push({text: '<b>' + t + '</b>', xref: 'paper', yref: 'paper',
  x: 0.0205, y: maxY[i][j], xanchor: 'left', yanchor: 'middle', showarrow: false,
  font: {family: FONT, size: 16, color: '#FF0000'}})));
annotations.push({text: '<b>acceleration</b>', xref: 'paper', yref: 'paper', x: -0.0704, y: 0.554, textangle: -90,
  xanchor: 'center', yanchor: 'middle', showarrow: false, font: {family: FONT, size: 16, color: '#000'}});
annotations.push({text: '<b>second</b>', xref: 'paper', yref: 'paper', x: 0.469, y: -0.085,
  xanchor: 'center', yanchor: 'middle', showarrow: false, font: {family: FONT, size: 16, color: '#000'}});
annotations.push({text: '中央氣象署', xref: 'paper', yref: 'paper', x: 0.909, y: -0.087,
  xanchor: 'center', yanchor: 'middle', showarrow: false, font: {family: 'Noto Sans CJK TC, sans-serif', size: 17, color: '#9a9a9a', weight: 'bold'}});

const layout = {
  width: 800, height: 600,
  margin: {l: 80, r: 38, t: 108, b: 57, pad: 0},
  paper_bgcolor: '#fff', plot_bgcolor: '#fff',
  showlegend: false,
  title: {text: '<b>' + titleText + '</b>', x: 0.5, xref: 'container', xanchor: 'center', y: 0.97, yref: 'container', yanchor: 'middle',
    font: {family: CJK, size: 27, color: BLUE}},
  xaxis: {range: [0, 33.1], anchor: 'y', tickmode: 'array', tickvals: xTicks, ticktext: xTickLabels,
    showline: true, linecolor: '#000', linewidth: 1, ticks: 'outside', ticklen: 5, tickcolor: '#000',
    showgrid: false, zeroline: false, tickfont: tickFont, fixedrange: true},
  yaxis: yAx([0, 0.3103], [-3, 3], ewTicks, ewTickLabels),
  yaxis2: yAx([0.3471, 0.6552], [-2, 2], nsTicks, nsTickLabels),
  yaxis3: yAx([0.6897, 1], [-1, 1], zTicks, zTickLabels),
  annotations: annotations
};

Plotly.newPlot('chart', traces, layout, {staticPlot: true, displayModeBar: false});
</script>
</body>
</html>
